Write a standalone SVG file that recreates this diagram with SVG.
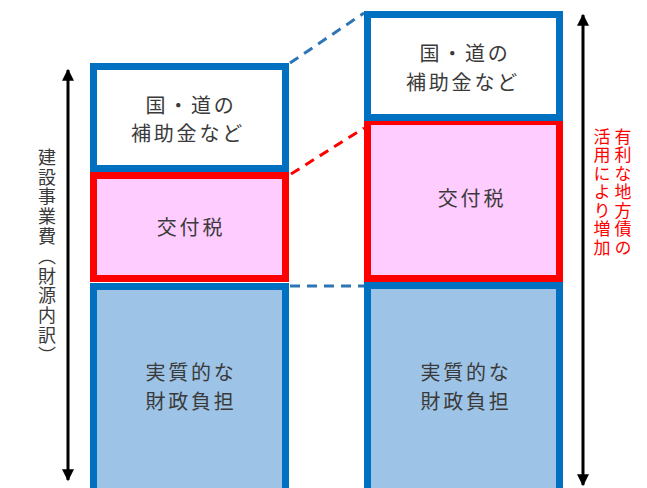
<svg xmlns="http://www.w3.org/2000/svg" width="647" height="488" viewBox="0 0 647 488">
<defs>
<marker id="ah" viewBox="0 0 10 10" refX="9" refY="5" markerWidth="4.5" markerHeight="4" orient="auto-start-reverse" markerUnits="strokeWidth">
<path d="M0,0 L10,5 L0,10 z" fill="#000"/>
</marker>
<style>
.blue{fill:#FFFFFF;stroke:#0070C0;stroke-width:7}
.bot{fill:#9DC3E6;stroke:#0070C0;stroke-width:7}
.red{fill:#FFCCFF;stroke:#FF0000;stroke-width:7}
.lbl{font-family:"Noto Sans CJK JP","Noto Sans CJK SC",sans-serif;font-size:20px;fill:#3A3A3A;text-anchor:middle;letter-spacing:2.8px}
.vt{font-family:"Noto Sans CJK JP","Noto Sans CJK SC",sans-serif;writing-mode:vertical-rl}
.dash{fill:none;stroke-width:3;stroke-dasharray:10 7}
.arr{stroke:#000;stroke-width:3;fill:none}
</style>
</defs>
<rect width="647" height="488" fill="#FFFFFF"/>
<g id="connectors">
<line class="dash" x1="290" y1="63" x2="364" y2="13" stroke="#2E75B6"/>
<line class="dash" x1="291" y1="174" x2="364" y2="128" stroke="#FF0000"/>
<line class="dash" x1="290" y1="286" x2="364" y2="286" stroke="#2E75B6"/>
<line class="arr" x1="68" y1="70" x2="68" y2="480" marker-start="url(#ah)" marker-end="url(#ah)"/>
<line class="arr" x1="583" y1="15" x2="583" y2="485" marker-start="url(#ah)" marker-end="url(#ah)"/>
</g>
<g id="left-bottom">
<rect class="bot" x="93.5" y="286.5" width="192" height="215"/>
<text class="lbl" x="191" y="380">実質的な</text>
<text class="lbl" x="191" y="409">財政負担</text>
</g>
<g id="left-red">
<rect class="red" x="93.5" y="175.5" width="192" height="103"/>
<text class="lbl" x="191" y="235">交付税</text>
</g>
<g id="left-top">
<rect class="blue" x="93.5" y="66.5" width="192" height="102"/>
<text class="lbl" x="191" y="113">国・道の</text>
<text class="lbl" x="188" y="141">補助金など</text>
</g>
<g id="right-bottom">
<rect class="bot" x="367.5" y="285.5" width="192" height="215"/>
<text class="lbl" x="466" y="380">実質的な</text>
<text class="lbl" x="466" y="409">財政負担</text>
</g>
<g id="right-red">
<rect class="red" x="367.5" y="121.5" width="192" height="157"/>
<text class="lbl" x="472" y="206">交付税</text>
</g>
<g id="right-top">
<rect class="blue" x="367.5" y="14.5" width="192" height="103"/>
<text class="lbl" x="465" y="61">国・道の</text>
<text class="lbl" x="463" y="90">補助金など</text>
</g>
<g id="left-label">
<text class="vt" x="47" y="148" font-size="18" letter-spacing="1.8" fill="#3A3A3A">建設事業費（財源内訳）</text>
</g>
<g id="right-label">
<text class="vt" x="623" y="128" font-size="17" letter-spacing="1.5" fill="#FF0000">有利な地方債の</text>
<text class="vt" x="602" y="128" font-size="17" letter-spacing="1.5" fill="#FF0000">活用により増加</text>
</g>
</svg>
